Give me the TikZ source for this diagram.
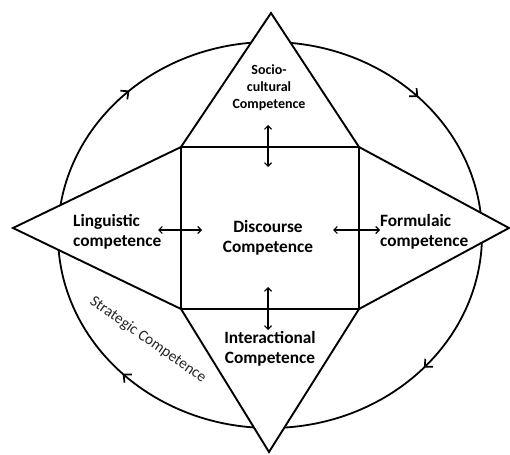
\documentclass[tikz,border=0pt]{standalone}
\usepackage{fontspec}
\setmainfont{Carlito}
\usetikzlibrary{arrows.meta,decorations.markings}
\tikzset{cyctip/.tip={Straight Barb[length=6pt,width=11pt,line width=1.7pt]}}
\begin{document}
\begin{tikzpicture}[x=1pt,y=-1pt,
  shapeline/.style={line width=1.9pt, line join=miter, fill=white},
  lbl/.style={font=\bfseries\fontsize{17.3}{20}\selectfont, inner sep=0pt},
  dbl/.style={line width=1.1pt, {Straight Barb[length=3.5pt,width=7pt]}-{Straight Barb[length=3.5pt,width=7pt]}},
  cycmark/.style={postaction=decorate, decoration={markings,
     mark=at position 0.131 with {\arrow{cyctip}},
     mark=at position 0.377 with {\arrow{cyctip}},
     mark=at position 0.617 with {\arrow{cyctip}},
     mark=at position 0.876 with {\arrow{cyctip}}}}
]
\useasboundingbox (0,0) rectangle (510,454);
% outer cycle
\draw[line width=1.8pt, cycmark] (58,235) arc[start angle=180, end angle=-180, x radius=212pt, y radius=193pt];
% corner points
\coordinate (top) at (271,13);
\coordinate (bot) at (269,452);
\coordinate (lft) at (13,228);
\coordinate (rgt) at (509,228);
\coordinate (tl) at (181,147);
\coordinate (tr) at (359,147);
\coordinate (br) at (359,309);
\coordinate (bl) at (181,309);
% triangles
\draw[shapeline] (tl) -- (top) -- (tr) -- cycle;
\draw[shapeline] (bl) -- (bot) -- (br) -- cycle;
\draw[shapeline] (tl) -- (lft) -- (bl) -- cycle;
\draw[shapeline] (tr) -- (rgt) -- (br) -- cycle;
% square
\draw[line width=2.3pt, line join=miter] (tl) rectangle (br);
% labels
\node[lbl, align=center, font=\bfseries\fontsize{14}{17}\selectfont] (socio) at (269,88) {Socio-\\cultural\\Competence};
\node[lbl, align=left, anchor=west] (ling) at (73,232) {Linguistic\\competence};
\node[lbl, align=center] (disc) at (268,238) {Discourse\\Competence};
\node[lbl, align=left, anchor=west] (form) at (380,232) {Formulaic\\competence};
\node[lbl, align=center] (inter) at (270,349) {Interactional\\Competence};
\node[inner sep=0pt, rotate=-35, text=black!85, font=\fontsize{15.5}{17}\selectfont] (strat) at (148,340) {Strategic Competence};
% double arrows
\coordinate (a1) at (268,125); \coordinate (a2) at (268,167);
\coordinate (b1) at (158,230); \coordinate (b2) at (202,230);
\coordinate (c1) at (333,230); \coordinate (c2) at (380,230);
\coordinate (d1) at (268,287); \coordinate (d2) at (268,330);
\draw[dbl] (a1) -- (a2);
\draw[dbl] (b1) -- (b2);
\draw[dbl] (c1) -- (c2);
\draw[dbl] (d1) -- (d2);
\end{tikzpicture}
\end{document}
